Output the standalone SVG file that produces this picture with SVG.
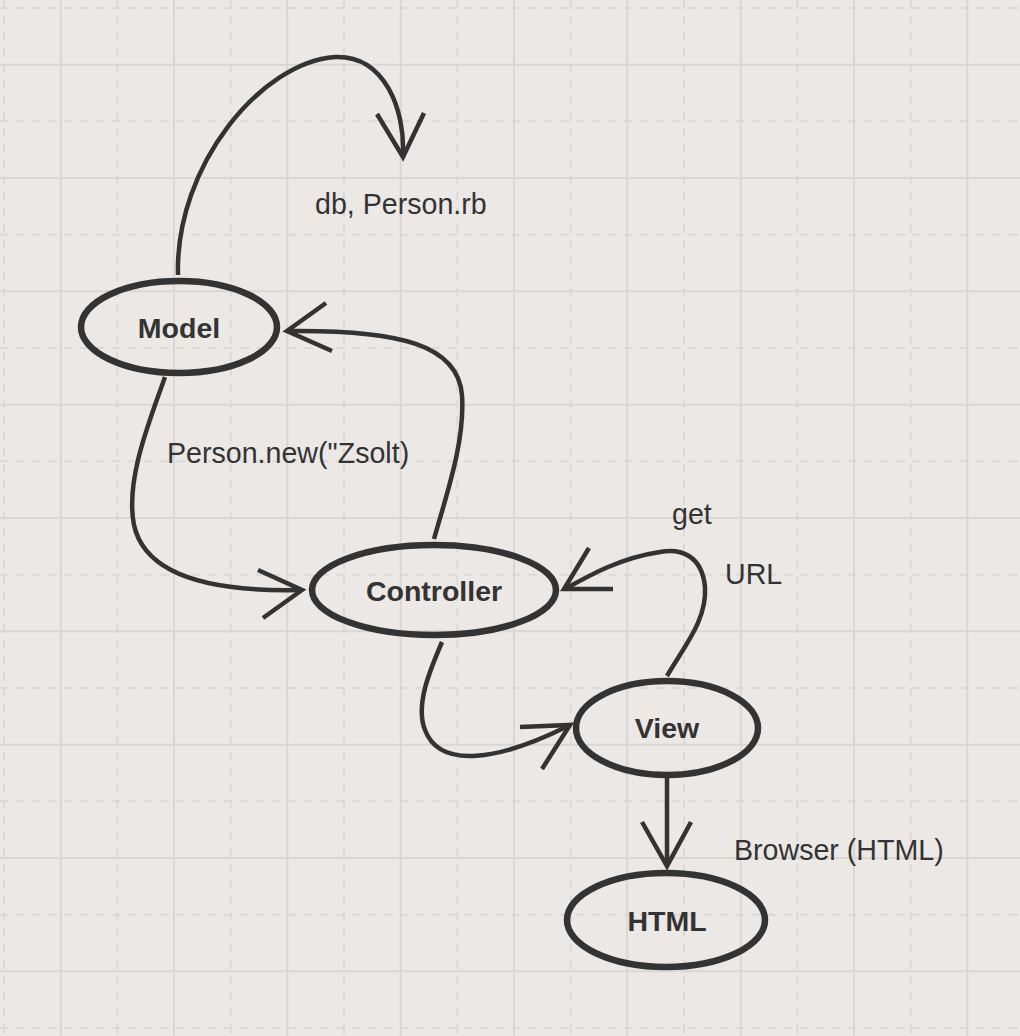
<svg xmlns="http://www.w3.org/2000/svg" width="1020" height="1036" viewBox="0 0 1020 1036">
<style>
.gs{fill:none;stroke:#d9d6d3;stroke-width:2}
.gd{fill:none;stroke:#dcd9d6;stroke-width:2;stroke-dasharray:9 7}
.node{fill:none;stroke:#333;stroke-width:6.5}
.conn{fill:none;stroke:#333;stroke-width:4.5;stroke-linecap:butt;stroke-linejoin:miter}
.nt{font-family:"Liberation Sans",Arial,sans-serif;font-weight:bold;font-size:28.5px;fill:#333;text-anchor:middle}
.lt{font-family:"Liberation Sans",Arial,sans-serif;font-size:28.6px;fill:#333}
</style>
<rect width="1020" height="1036" fill="#ebe8e5"/>
<g id="grid">
<path class="gd" d="M4,0V1036M117.3,0V1036M230.7,0V1036M344,0V1036M457.3,0V1036M570.7,0V1036M684,0V1036M797.3,0V1036M910.7,0V1036M0,8H1020M0,121.3H1020M0,234.7H1020M0,348H1020M0,461.3H1020M0,574.7H1020M0,688H1020M0,801.3H1020M0,914.7H1020M0,1028H1020"/>
<path class="gs" d="M60.7,0V1036M174,0V1036M287.3,0V1036M400.7,0V1036M514,0V1036M627.3,0V1036M740.7,0V1036M854,0V1036M967.3,0V1036M0,64.7H1020M0,178H1020M0,291.3H1020M0,404.7H1020M0,518H1020M0,631.3H1020M0,744.7H1020M0,858H1020M0,971.3H1020"/>
</g>
<g id="connectors">
<path class="conn" d="M178,275 C175,165 262,62 335,57 C385,55 405,110 403,155"/>
<path class="conn" d="M377,114 L403,157 L424,113"/>
<path class="conn" d="M434,539 C448,490 465,440 462,395 C458,345 400,330 290,331"/>
<path class="conn" d="M326,303 L287,331 L332,351"/>
<path class="conn" d="M165,377 C150,420 125,480 134,525 C145,575 210,592 300,590"/>
<path class="conn" d="M258,570 L302,590 L263,618"/>
<path class="conn" d="M442,642 C430,670 415,705 425,730 C440,770 500,760 568,726"/>
<path class="conn" d="M520,727 L570,725 L542,769"/>
<path class="conn" d="M667,676 C685,645 707,620 705,587 C702,555 680,548 660,552 C620,558 590,575 565,589"/>
<path class="conn" d="M589,548 L564,589 L613,589"/>
<path class="conn" d="M667,778 L667,862"/>
<path class="conn" d="M642,822 L667,866 L691,822"/>
</g>
<g id="model"><ellipse class="node" cx="179" cy="327" rx="98" ry="46"/><text class="nt" x="179" y="338">Model</text></g>
<g id="controller"><ellipse class="node" cx="434" cy="590" rx="122" ry="45"/><text class="nt" x="434" y="601">Controller</text></g>
<g id="view"><ellipse class="node" cx="667" cy="728" rx="91" ry="47"/><text class="nt" x="667" y="738">View</text></g>
<g id="html"><ellipse class="node" cx="666" cy="920" rx="99" ry="47"/><text class="nt" x="667" y="931">HTML</text></g>
<g id="labels">
<text class="lt" x="315" y="214">db, Person.rb</text>
<text class="lt" x="167" y="463">Person.new("Zsolt)</text>
<text class="lt" x="672" y="524">get</text>
<text class="lt" x="725" y="584">URL</text>
<text class="lt" x="734" y="860">Browser (HTML)</text>
</g>
</svg>
